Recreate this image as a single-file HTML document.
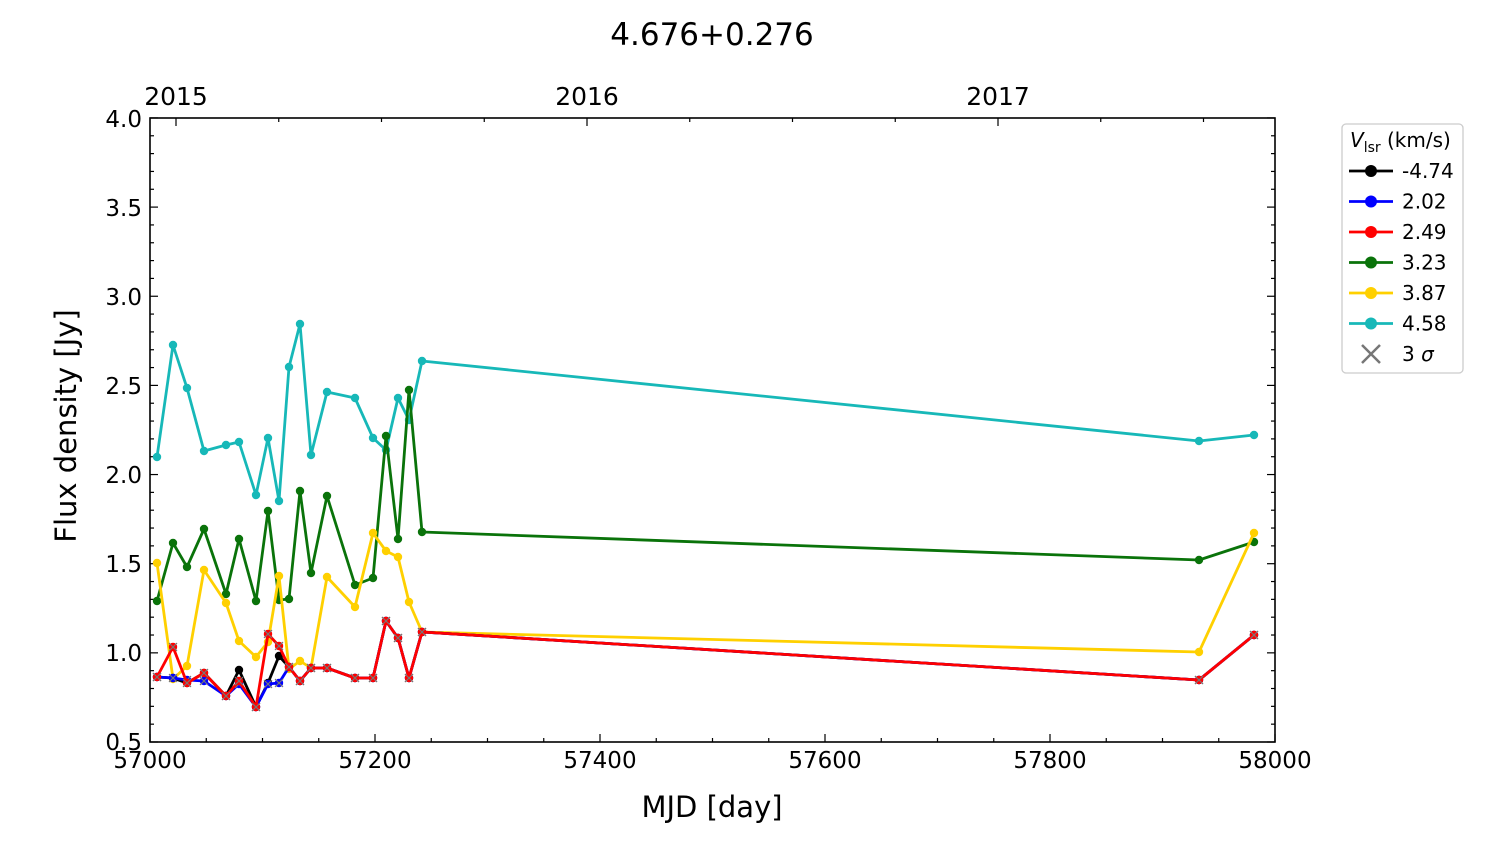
<!DOCTYPE html>
<html><head><meta charset="utf-8"><style>
body{margin:0;background:#fff}
svg{display:block;font-family:"DejaVu Sans","Liberation Sans",sans-serif}
</style></head><body>
<svg id="s" width="1500" height="844" viewBox="0 0 1500 844" xmlns="http://www.w3.org/2000/svg">
<rect width="1500" height="844" fill="#fff"/>
<text x="712" y="45" font-size="31" text-anchor="middle">4.676+0.276</text>
<g id="ticks" stroke="#000" stroke-width="1.2"></g>
<g id="data"></g>
<rect x="150" y="118" width="1125" height="624" fill="none" stroke="#000" stroke-width="1.6"/>
<g font-size="23" text-anchor="end">
<text x="142" y="750">0.5</text><text x="142" y="661">1.0</text><text x="142" y="572">1.5</text>
<text x="142" y="483">2.0</text><text x="142" y="394">2.5</text><text x="142" y="305">3.0</text>
<text x="142" y="216">3.5</text><text x="142" y="127">4.0</text>
</g>
<g font-size="23" text-anchor="middle">
<text x="150" y="768">57000</text><text x="375" y="768">57200</text><text x="600" y="768">57400</text>
<text x="825" y="768">57600</text><text x="1050" y="768">57800</text><text x="1275" y="768">58000</text>
</g>
<g font-size="25" text-anchor="middle">
<text x="176" y="105">2015</text><text x="587" y="105">2016</text><text x="998" y="105">2017</text>
</g>
<text x="712" y="817" font-size="29" text-anchor="middle">MJD [day]</text>
<text transform="translate(76,426) rotate(-90)" font-size="29" text-anchor="middle">Flux density [Jy]</text>
<rect x="1342" y="124" width="121" height="249" rx="4" fill="#fff" stroke="#ccc" stroke-width="1.3"/>
<text x="1350" y="147" font-size="20"><tspan font-style="italic">V</tspan><tspan font-size="14" dy="5">lsr</tspan><tspan dy="-5"> (km/s)</tspan></text>
<g id="leg" font-size="20"></g>
<text x="1402" y="361" font-size="20">3 <tspan font-style="italic">σ</tspan></text>
</svg>
<script>
const NS="http://www.w3.org/2000/svg";
function el(p,t,a){const e=document.createElementNS(NS,t);for(const k in a)e.setAttribute(k,a[k]);p.appendChild(e);return e;}
const T=document.getElementById('ticks');
for(let m=57000;m<=58000;m+=50){const x=150+(m-57000)*1.125,L=m%200==0?8:4;el(T,'line',{x1:x,y1:742,x2:x,y2:742-L});}
for(let v=0.5;v<=4.0001;v+=0.1){const y=742-(v-0.5)*178.3,L=Math.abs(v*2-Math.round(v*2))<1e-6?8:4;el(T,'line',{x1:150,y1:y,x2:150+L,y2:y});el(T,'line',{x1:1275,y1:y,x2:1275-L,y2:y});}
[176,587,998].forEach(x=>el(T,'line',{x1:x,y1:118,x2:x,y2:126}));
for(let i=0;i<12;i++){const x=176+i*411/4;if(x<1275&&i%4)el(T,'line',{x1:x,y1:118,x2:x,y2:122});}
const X=[157,173,187,204,226,239,256,268,279,289,300,311,327,355,373,386,398,409,422,1199,1254];
const D={
c:['#17b8b8',[457,345,388,451,445,442,495,438,501,367,324,455,392,398,438,450,398,420,361,441,435]],
g:['#0a730a',[601,543,567,529,594,539,601,511,600,599,491,573,496,585,578,436,539,390,532,560,542]],
y:['#ffd000',[563,679,666,570,603,641,657,642,576,669,661,668,577,607,533,551,557,602,632,652,533]],
k:['#000',[677,678,683,673,696,670,707,683,656,667,681,668,668,678,678,621,638,678,632,680,635]],
b:['#0000ff',[677,678,680,681,696,684,707,684,683,667,681,668,668,678,678,621,638,678,632,680,635]],
r:['#ff0000',[677,647,683,673,696,681,707,634,646,667,681,668,668,678,678,621,638,678,632,680,635]]};
const G=document.getElementById('data');
function series(k,cross){const [c,Y]=D[k];el(G,'polyline',{points:X.map((x,i)=>x+','+Y[i]).join(' '),fill:'none',stroke:c,'stroke-width':2.8,'stroke-linejoin':'round'});
X.forEach((x,i)=>{el(G,'circle',{cx:x,cy:Y[i],r:4.2,fill:c});if(cross){const y=Y[i];el(G,'path',{d:`M${x-4},${y-4}L${x+4},${y+4}M${x-4},${y+4}L${x+4},${y-4}`,stroke:'#777','stroke-width':1.2});}});}
series('c');series('g');series('y');series('k');series('b',1);series('r',1);
const L=document.getElementById('leg');
[['#000','-4.74'],['#0000ff','2.02'],['#ff0000','2.49'],['#0a730a','3.23'],['#ffd000','3.87'],['#17b8b8','4.58']].forEach((a,i)=>{const y=171+i*30.5;
el(L,'line',{x1:1349,y1:y,x2:1393,y2:y,stroke:a[0],'stroke-width':2.8});el(L,'circle',{cx:1371,cy:y,r:6,fill:a[0]});
const t=el(L,'text',{x:1402,y:y+7});t.textContent=a[1];});
el(L,'path',{d:'M1362,345L1380,363M1362,363L1380,345',stroke:'#777','stroke-width':2.5});
</script>
</body></html>
